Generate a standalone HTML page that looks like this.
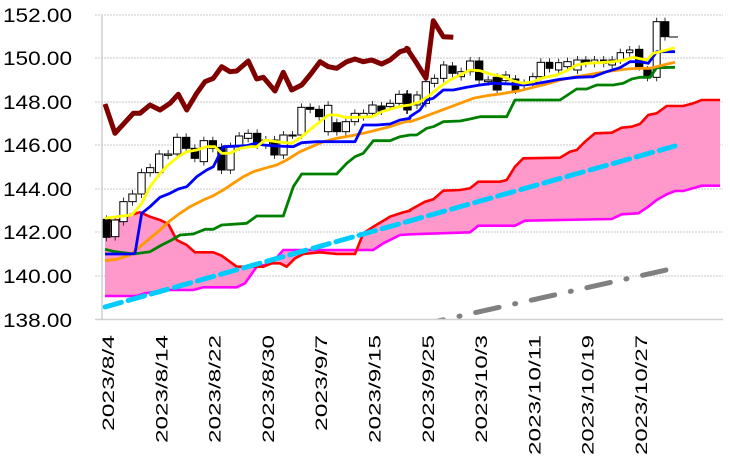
<!DOCTYPE html>
<html><head><meta charset="utf-8"><style>
html,body{margin:0;padding:0;background:#fff;width:730px;height:463px;overflow:hidden}
svg{display:block}
</style></head><body>
<svg id="s" width="730" height="463" xmlns="http://www.w3.org/2000/svg" font-family="Liberation Sans, sans-serif"></svg>
<script>
var s=document.getElementById('s'),h='';
function L(a1,a2){var r=[];a1.forEach(function(p){r.push([p[0]/3+90,p[1]/3])});a2.forEach(function(p){r.push([p[0]/3+400,p[1]/3])});return r}
function S(r){return r.map(function(p){return p[0].toFixed(1)+','+p[1].toFixed(1)}).join(' ')}
var gy=[15,58,102,145,189,232,276];
gy.forEach(function(y){h+='<line x1="95" y1="'+y+'" x2="723" y2="'+y+'" stroke="#c8c8c8" stroke-width="1" stroke-dasharray="2,1"/>'});
var labs=['152.00','150.00','148.00','146.00','144.00','142.00','140.00','138.00'];
labs.forEach(function(t,i){var y=[15,58,102,145,189,232,276,320][i];h+='<text x="3" y="'+(y+7)+'" font-size="19" textLength="69" lengthAdjust="spacingAndGlyphs">'+t+'</text>'});
var A=L([[45,665],[90,660],[120,645],[150,637],[180,650],[210,660],[235,672],[260,720],[290,735],[315,757],[370,757],[395,767],[440,800],[520,800],[545,790],[570,790],[590,800],[615,775],[640,762],[690,757],[740,762],[795,762],[820,700],[850,680],[900,650],[940,637],[960,632]],[[30,630],[75,605],[100,598],[130,572],[180,570],[210,565],[235,545],[300,545],[320,540],[345,500],[370,475],[480,473],[510,455],[530,450],[555,425],[585,400],[635,398],[665,383],[695,380],[720,372],[745,345],[770,340],[800,318],[850,318],[880,310],[905,300],[960,300]]);
var B=L([[45,888],[140,888],[165,880],[200,875],[240,870],[310,870],[340,862],[440,862],[465,850],[500,800],[545,790],[580,750],[850,750],[880,730],[930,705],[960,703]],[[210,697],[235,677],[345,677],[375,662],[635,657],[665,643],[715,640],[745,620],[770,600],[800,583],[825,573],[850,573],[905,557],[960,557]]);
h+='<polygon points="'+S(A.concat(B.slice().reverse()))+'" fill="#ff99cc"/>';
h+='<polyline points="'+S(B)+'" fill="none" stroke="#ff00ff" stroke-width="2.6"/>';
h+='<polyline points="'+S(A)+'" fill="none" stroke="#ff0000" stroke-width="2.6"/>';
var C1=[[37,62,658,712,1],[63,88,660,710,0],[88,113,605,665,0],[115,140,582,605,0],[142,167,518,582,0],[168,193,503,518,0],[195,220,462,518,0],[222,247,462,466,0],[249,274,412,462,0],[276,301,412,445,1],[302,327,445,475,1],[329,354,422,485,0],[356,381,422,445,1],[382,407,442,510,1],[409,434,440,510,0],[435,460,408,440,0],[462,487,400,415,0],[489,514,400,435,1],[515,540,420,435,0],[541,566,420,465,1],[568,593,405,465,0],[595,620,405,405,0],[622,647,322,405,0],[648,673,322,328,1],[675,700,328,350,1],[702,727,316,395,0],[728,753,368,395,1],[755,780,365,395,0],[782,807,340,365,0],[808,833,340,350,0],[835,860,315,340,0],[862,887,318,333,1],[888,913,310,320,0],[915,940,283,310,0],[940,960,283,330,1]];
var C2=[[10,35,282,330,1],[40,62,285,315,0],[65,90,245,310,0],[92,115,235,250,0],[120,142,195,235,0],[145,170,198,220,1],[172,195,215,230,0],[198,223,183,215,0],[225,250,183,240,1],[252,277,240,245,0],[278,305,232,270,1],[305,330,225,242,0],[335,358,237,270,1],[360,385,250,255,0],[387,410,230,250,0],[410,435,187,230,0],[437,460,187,205,1],[465,487,188,210,0],[490,515,185,200,0],[520,545,180,210,0],[545,570,180,190,1],[572,595,180,190,0],[600,622,180,190,1],[625,648,180,195,0],[650,672,158,180,0],[678,700,150,158,0],[705,730,148,200,1],[730,755,210,232,1],[758,782,65,232,0],[782,808,65,110,1]];
function cand(c,o){var x1=c[0]/3+o+0.5,x2=c[1]/3+o-0.5,t=c[2]/3,b=c[3]/3,cx=(x1+x2)/2;
 h+='<line x1="'+cx+'" y1="'+(t-4)+'" x2="'+cx+'" y2="'+(b+4)+'" stroke="#333" stroke-width="1"/>';
 h+='<rect x="'+x1+'" y="'+t+'" width="'+(x2-x1)+'" height="'+Math.max(1,b-t)+'" fill="'+(c[4]?'#000':'#fff')+'" stroke="#000" stroke-width="1"/>';}
C1.forEach(function(c){cand(c,90)});C2.forEach(function(c){cand(c,400)});
h+='<line x1="669" y1="37" x2="678" y2="37" stroke="#000" stroke-width="1"/>';
function line(a1,a2,col,w){h+='<polyline points="'+S(L(a1,a2))+'" fill="none" stroke="'+col+'" stroke-width="'+w+'" stroke-linejoin="round"/>'}
line([[45,748],[75,755],[130,762],[180,755],[215,735],[245,720],[270,705],[310,702],[345,688],[370,688],[395,675],[470,670],[500,648],[580,648],[610,560],[635,522],[740,522],[770,490],[795,470],[820,460],[850,422],[900,422],[930,410],[960,405]],[[50,405],[80,385],[100,380],[130,365],[180,363],[210,357],[240,350],[320,350],[345,300],[480,300],[530,267],[560,267],[590,255],[640,255],[670,250],[695,237],[720,232],[750,232],[770,203],[825,202]],'#008000',2.8);
line([[45,782],[80,778],[120,765],[150,740],[180,715],[210,690],[240,662],[270,640],[300,620],[340,600],[370,587],[400,570],[430,550],[460,530],[490,515],[530,503],[560,495],[590,480],[630,455],[665,440],[700,425],[740,415],[780,408],[820,400],[860,390],[900,380],[930,370],[960,362]],[[30,365],[60,355],[100,340],[140,325],[180,310],[220,295],[260,287],[300,282],[330,277],[360,272],[400,262],[440,252],[480,240],[520,232],[560,225],[600,218],[640,212],[680,207],[720,205],[750,205],[790,195],[825,187]],'#ff9900',2.8);
line([[45,762],[120,762],[135,760],[155,640],[180,620],[210,592],[240,580],[265,567],[290,560],[320,530],[350,510],[370,500],[385,470],[400,440],[470,437],[495,430],[520,435],[560,438],[610,440],[635,428],[680,425],[795,425],[820,375],[860,375],[900,372],[930,360],[960,355]],[[30,350],[60,330],[80,300],[100,295],[130,270],[160,270],[200,262],[240,255],[280,250],[330,252],[370,255],[400,252],[440,245],[480,238],[530,232],[580,230],[620,215],[660,203],[690,185],[720,185],[745,190],[770,155],[825,155]],'#0000ff',2.8);
line([[45,655],[80,650],[125,645],[155,610],[180,560],[210,520],[240,490],[265,470],[290,455],[320,450],[350,440],[375,440],[395,460],[420,460],[450,445],[480,440],[500,440],[525,420],[560,425],[605,430],[635,410],[665,385],[690,365],[715,345],[740,345],[765,352],[800,352],[845,350],[875,335],[900,328],[935,318],[960,315]],[[30,315],[60,305],[90,285],[120,260],[150,240],[180,225],[210,210],[240,212],[270,222],[310,230],[340,243],[370,250],[400,245],[430,233],[470,225],[500,212],[530,195],[560,190],[600,188],[640,185],[670,180],[700,172],[740,180],[760,160],[800,150],[825,143]],'#ffff00',2.8);
line([[45,312],[75,400],[130,340],[150,340],[180,315],[210,330],[240,310],[265,283],[290,330],[320,280],[345,245],[370,235],[395,200],[420,215],[440,213],[475,183],[500,237],[520,232],[555,273],[580,217],[605,270],[635,255],[660,225],[690,185],[715,200],[740,205],[770,185],[795,177],[820,185],[845,180],[875,192],[900,180],[930,155],[955,148]],[[20,145],[50,190],[78,235],[100,62],[130,110],[160,112]],'#800000',5);
h+='<line x1="105" y1="307" x2="675" y2="146" stroke="#00ccff" stroke-width="5" stroke-dasharray="17,7" stroke-linecap="round"/>';
h+='<clipPath id="cp"><rect x="100" y="0" width="630" height="319"/></clipPath>';
h+='<line x1="420" y1="325" x2="675" y2="268" stroke="#808080" stroke-width="5" stroke-dasharray="24,16,1,16" stroke-linecap="round" clip-path="url(#cp)"/>';
h+='<line x1="102" y1="15" x2="102" y2="320" stroke="#d0d0d0" stroke-width="1.5"/>';
h+='<line x1="95" y1="319.5" x2="723" y2="319.5" stroke="#d0d0d0" stroke-width="1.5"/>';
var xl=['2023/8/4','2023/8/14','2023/8/22','2023/8/30','2023/9/7','2023/9/15','2023/9/25','2023/10/3','2023/10/11','2023/10/19','2023/10/27'];
xl.forEach(function(t,i){var x=107+i*53.3+7;h+='<text transform="translate('+x.toFixed(1)+',335) rotate(-90)" text-anchor="end" font-size="17" textLength="'+(t.length*12)+'" lengthAdjust="spacingAndGlyphs">'+t+'</text>'});
s.innerHTML=h;
</script>
</body></html>
